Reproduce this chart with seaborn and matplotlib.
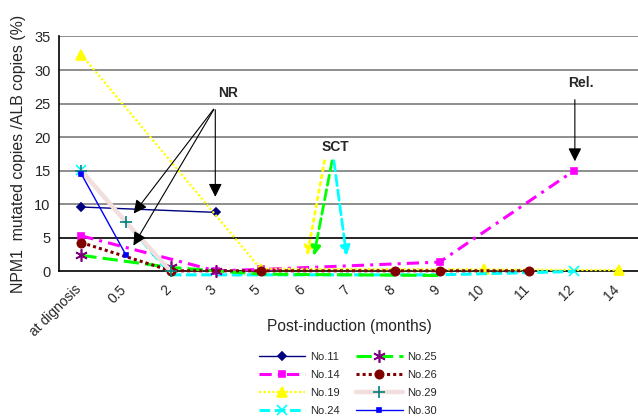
import numpy as np
import pandas as pd
import matplotlib
matplotlib.use('Agg')
import matplotlib.pyplot as plt
import matplotlib.transforms as mtransforms
from matplotlib.lines import Line2D
import seaborn as sns

# follow-up points, NaN = no sample
n = np.nan
categories = ['at dignosis', '0.5', '2', '3', '5', '6', '7', '8', '9', '10', '11', '12', '14']
no11 = [9.6, n, n, 8.8, n, n, n, n, n, n, n, n, n]
no14 = [5.3, n, n, 0.1, 0.3, n, n, n, 1.4, n, n, 15.0, n]
no19 = [32.3, n, n, n, 0.4, n, n, n, n, 0.3, n, n, 0.2]
no24 = [15.1, n, -0.5, n, n, n, n, n, -0.5, n, n, 0.0, n]
no25 = [2.4, n, 0.6, 0.1, -0.4, n, n, n, -0.6, n, n, n, n]
no26 = [4.3, n, 0.1, n, 0.1, n, n, 0.1, 0.1, n, 0.1, n, n]
no29 = [15.0, 7.3, 0.0, n, n, n, n, n, n, n, n, n, n]
no30 = [14.5, 2.4, n, n, n, n, n, n, n, n, n, n, n]

# name, values, line colour, linestyle, linewidth, marker, marker face, marker edge, marker size
series = [
    ('No.11', no11, '#000080', '-', 1.0, 'D', '#000080', '#000080', 4),
    ('No.14', no14, '#FF00FF', (0, (4, 2, 1, 2)), 2.2, 's', '#FF00FF', '#FF00FF', 5),
    ('No.19', no19, '#FFFF00', (0, (1, 1)), 1.6, '^', '#FFFF00', '#FFFF00', 7),
    ('No.24', no24, '#00FFFF', (0, (3.5, 1.5)), 2.2, 'x', '#00FFFF', '#00FFFF', 7),
    ('No.25', no25, '#00FF00', (0, (5, 2)), 2.2, (6, 2, 0), '#800080', '#800080', 9),
    ('No.26', no26, '#800000', (0, (1, 1)), 2.2, 'o', '#800000', '#800000', 6),
    ('No.29', no29, '#F2DEDC', '-', 3.2, '+', '#008080', '#008080', 8),
    ('No.30', no30, '#0000FF', '-', 1.0, 's', '#0000FF', '#0000FF', 2.5),
]

sns.set_style('white')
plt.rcParams['font.family'] = ['Liberation Sans', 'DejaVu Sans']

fig = plt.figure(figsize=(6.38, 4.17), dpi=100)
ax = fig.add_axes([0.0925, 0.349, 0.9075, 0.5635])

x = np.arange(len(categories))
handles = []
for name, vals, col, ls, lw, mk, mfc, mec, ms in series:
    df = pd.DataFrame({'x': x, 'y': vals}).dropna()
    vis = [i for i, v in enumerate(df['y']) if v >= 0]
    sns.lineplot(data=df, x='x', y='y', ax=ax, color=col, linestyle=ls, linewidth=lw,
                 marker=mk, markerfacecolor=mfc, markeredgecolor=mec, markersize=ms,
                 markeredgewidth=1.2, markevery=vis, errorbar=None, clip_on=False, zorder=3)
    handles.append(Line2D([], [], color=col, linestyle=ls, linewidth=lw, marker=mk,
                          markerfacecolor=mfc, markeredgecolor=mec, markersize=ms,
                          markeredgewidth=1.2, label=name))

ax.set_xlim(-0.5, 12.43)
ax.set_ylim(0, 35)
ax.set_yticks(np.arange(0, 36, 5))
for yv in range(5, 36, 5):
    ax.axhline(yv, color='black' if yv == 5 else '#7a7a7a', lw=1.2, zorder=1)

# category labels: slanted, sitting a little left of each category
ax.set_xticks(x)
ax.set_xticklabels([])
ax.set_xticks(np.arange(0.5, 12, 1), minor=True)
ax.tick_params(axis='x', which='major', length=0)
ax.tick_params(axis='x', which='minor', direction='in', length=4, color='#444444', width=1)
ax.tick_params(axis='y', length=3, width=1, color='black', pad=3, labelsize=10.5)
lab_tr = ax.get_xaxis_transform() + mtransforms.ScaledTranslation(-0.07, -0.11, fig.dpi_scale_trans)
for xi, cat in zip(x, categories):
    ax.text(xi, 0, cat, transform=lab_tr, rotation=45, ha='right', va='top',
            rotation_mode='anchor', fontsize=10)

for side in ['top', 'right']:
    ax.spines[side].set_visible(False)
for side in ['left', 'bottom']:
    ax.spines[side].set_color('black')
    ax.spines[side].set_linewidth(1.2)

ax.set_xlabel('')
ax.set_ylabel('NPM1  mutated copies /ALB copies (%)', fontsize=11.4, labelpad=6)
fig.text(0.548, 1 - 327 / 417, 'Post-induction (months)', fontsize=11.2, ha='center', va='center')

# NR arrows
for tip in [(1.13, 8.3), (1.13, 3.5), (2.99, 10.7)]:
    ax.annotate('', xy=tip, xytext=(2.99, 24.5),
                arrowprops=dict(arrowstyle='-|>', color='black', lw=0.8, mutation_scale=20))
ax.text(3.28, 26.6, 'NR', fontsize=10, fontweight='bold', ha='center', va='center')

# SCT arrows
sct_arrows = [((5.44, 16.9), (5.03, 1.9), '#FFFF00', ':'),
              ((5.61, 16.9), (5.18, 1.9), '#00FF00', '--'),
              ((5.63, 16.9), (5.93, 1.9), '#00FFFF', '--')]
for start, tip, col, ls in sct_arrows:
    ax.annotate('', xy=tip, xytext=start,
                arrowprops=dict(arrowstyle='-|>', color=col, lw=2, linestyle=ls, mutation_scale=14))
ax.text(5.67, 18.5, 'SCT', fontsize=10, fontweight='bold', ha='center', va='center')

# relapse arrow
ax.annotate('', xy=(11.02, 16.0), xytext=(11.02, 26.0),
            arrowprops=dict(arrowstyle='-|>', color='black', lw=0.8, mutation_scale=20))
ax.text(11.15, 28.0, 'Rel.', fontsize=10, fontweight='bold', ha='center', va='center')

fig.legend(handles=handles, ncol=2, loc='upper center', bbox_to_anchor=(0.545, 0.18),
           frameon=False, fontsize=8, handlelength=4.2, labelspacing=0.72, columnspacing=1.5,
           handletextpad=0.4)

fig.savefig('out.png', dpi=100)
